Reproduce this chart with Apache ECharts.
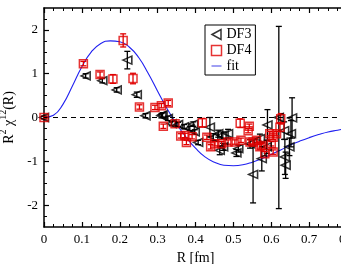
<!DOCTYPE html>
<html><head><meta charset="utf-8">
<script src="https://cdn.jsdelivr.net/npm/echarts@6/dist/echarts.min.js"></script>
<style>html,body{margin:0;padding:0;background:#fff}#c{width:341px;height:264px}</style>
</head><body><div id="c"></div>
<script>
// ---- data ----
const df3R = [0.0,0.11,0.154,0.192,0.22,0.245,0.268,0.31,0.313,0.327,0.337,0.354,0.37,0.385,0.394,0.398,0.407,0.438,0.447,0.46,0.464,0.469,0.473,0.486,0.508,0.513,0.544,0.552,0.57,0.575,0.588,0.59,0.62,0.634,0.636,0.638,0.648,0.652,0.655];
const df3V = [0.0,0.95,0.84,0.63,1.31,0.52,0.04,0.04,0.06,-0.02,-0.14,-0.16,-0.21,-0.25,-0.15,-0.33,-0.57,-0.22,-0.45,-0.37,-0.75,-0.41,-0.67,-0.37,-0.81,-0.71,-0.6,-1.3,-0.48,-0.94,-0.67,-0.17,0.0,-0.3,-0.9,-1.09,-0.67,-0.37,-0.01];
const df3E = [0.03,0.05,0.05,0.05,0.2,0.06,0.05,0.05,0.05,0.05,0.05,0.05,0.05,0.05,0.05,0.05,0.05,0.22,0.08,0.08,0.1,0.08,0.08,0.1,0.08,0.08,0.1,0.65,0.1,0.28,0.15,0.35,2.08,0.2,0.4,0.3,0.2,0.3,0.46];
const df4R = [0.0,0.104,0.148,0.182,0.209,0.235,0.252,0.293,0.31,0.328,0.315,0.346,0.361,0.372,0.376,0.391,0.418,0.43,0.44,0.451,0.469,0.486,0.504,0.518,0.52,0.539,0.542,0.544,0.552,0.561,0.57,0.574,0.583,0.596,0.6,0.605,0.605,0.614,0.623,0.625];
const df4V = [0.0,1.23,0.98,0.88,1.76,0.89,0.24,0.23,0.27,0.33,-0.2,-0.14,-0.42,-0.41,-0.57,-0.44,-0.12,-0.45,-0.67,-0.6,-0.6,-0.56,-0.56,-0.13,-0.52,-0.3,-0.2,-0.56,-0.56,-0.52,-0.67,-0.64,-0.83,-0.37,-0.6,-0.79,-0.45,-0.37,-0.22,-0.03];
const df4E = [0.03,0.05,0.06,0.1,0.15,0.12,0.05,0.05,0.05,0.06,0.05,0.05,0.05,0.05,0.05,0.05,0.1,0.05,0.05,0.05,0.05,0.05,0.05,0.1,0.05,0.05,0.05,0.05,0.05,0.05,0.05,0.05,0.05,0.05,0.05,0.05,0.05,0.05,0.1,0.12];
const fitR = [0,0.025,0.05,0.075,0.1,0.125,0.15,0.175,0.2,0.225,0.25,0.275,0.3,0.325,0.35,0.375,0.4,0.425,0.45,0.475,0.5,0.525,0.55,0.575,0.6,0.625,0.65,0.675,0.7,0.725,0.75,0.775,0.8];
const fitV = [0,0.05,0.3,0.72,1.16,1.5,1.69,1.75,1.73,1.61,1.37,1.01,0.6,0.2,-0.15,-0.45,-0.7,-0.9,-1.02,-1.09,-1.1,-1.08,-1.02,-0.94,-0.84,-0.74,-0.63,-0.54,-0.46,-0.39,-0.33,-0.29,-0.25];
const yMajorTicks = [-2,-1,0,1,2];
const yMinorTicks = [-2.25,-1.75,-1.5,-1.25,-0.75,-0.5,-0.25,0.25,0.5,0.75,1.25,1.5,1.75,2.25];
const xTickLabels = ['0','0.1','0.2','0.3','0.4','0.5','0.6','0.7','0.8'];

const FONT = '"Liberation Serif", "DejaVu Serif", serif';
const chart = echarts.init(document.getElementById('c'), null, {renderer:'canvas'});

function pts(r, v){ return r.map((x,i)=>[x, v[i]]); }
function errData(r, v, e){ return r.map((x,i)=>[x, v[i]-e[i], v[i]+e[i]]); }
function errSeries(r, v, e, color, z){
  return {
    type:'custom', silent:true, z:z, xAxisIndex:0, yAxisIndex:0,
    data: errData(r, v, e),
    renderItem: function(params, api){
      const x = api.value(0);
      const p1 = api.coord([x, api.value(1)]);
      const p2 = api.coord([x, api.value(2)]);
      const w = 3;
      const st = {stroke: color, lineWidth: 1.3};
      return {type:'group', children:[
        {type:'line', shape:{x1:p1[0], y1:p1[1], x2:p2[0], y2:p2[1]}, style:st},
        {type:'line', shape:{x1:p1[0]-w, y1:p1[1], x2:p1[0]+w, y2:p1[1]}, style:st},
        {type:'line', shape:{x1:p2[0]-w, y1:p2[1], x2:p2[0]+w, y2:p2[1]}, style:st}
      ]};
    }
  };
}

const axisLineStyle = {color:'#000', width:1.5};
const tri = 'path://M0,5 L9,0 L9,10 Z';
const lineIcon = 'path://M0,0 L0.01,0 M0,4.3 L10,4.3 L10,5.7 L0,5.7 Z M10,10 L9.99,10';

const option = {
  animation:false,
  backgroundColor:'#fff',
  grid:{left:44, top:8, width:303, height:219, outerBoundsMode:'none', containLabel:false},
  legend:{
    orient:'vertical', left:205, top:25,
    backgroundColor:'#fff', borderColor:'#000', borderWidth:1, borderRadius:0,
    padding:[2,4,2,4], itemGap:1, itemWidth:10, itemHeight:10,
    textStyle:{fontFamily:FONT, fontSize:14, color:'#000', padding:[0,0,0,0]},
    data:[
      {name:'DF3', icon:tri, itemStyle:{color:'none', borderColor:'#000', borderWidth:1.5}},
      {name:'DF4', icon:'rect', itemStyle:{color:'none', borderColor:'#e00000', borderWidth:1.5}},
      {name:'fit', icon:lineIcon, itemStyle:{color:'#8080f0', borderWidth:0}}
    ]
  },
  xAxis:[
    {type:'value', min:0, max:0.8, interval:0.1, position:'bottom',
     name:'R [fm]', nameLocation:'middle', nameGap:21,
     nameTextStyle:{fontFamily:FONT, fontSize:14, color:'#000'},
     axisLine:{show:true, onZero:false, lineStyle:axisLineStyle},
     axisTick:{show:true, inside:true, length:5, lineStyle:{color:'#000', width:1.2}},
     minorTick:{show:true, splitNumber:4, length:3, lineStyle:{color:'#000', width:1}},
     axisLabel:{fontFamily:FONT, fontSize:13, color:'#000', margin:6, showMaxLabel:true,
       formatter:function(v){ return xTickLabels[Math.round(v*10)]; }},
     splitLine:{show:false}},
    {type:'value', min:0, max:0.8, interval:0.1, position:'top',
     axisLine:{show:true, onZero:false, lineStyle:axisLineStyle},
     axisTick:{show:true, inside:true, length:5, lineStyle:{color:'#000', width:1.2}},
     minorTick:{show:true, splitNumber:4, length:3, lineStyle:{color:'#000', width:1}},
     axisLabel:{show:false}, splitLine:{show:false}}
  ],
  yAxis:[
    {type:'value', min:-2.5, max:2.5, position:'left',
     name:'{a|R}{s|2}{a| χ}{s|12}{a|(R)}', nameLocation:'middle', nameGap:25, nameRotate:90,
     nameTextStyle:{fontFamily:FONT, fontSize:14, color:'#000',
       rich:{a:{fontFamily:FONT, fontSize:14, color:'#000', lineHeight:18, verticalAlign:'bottom'},
             s:{fontFamily:FONT, fontSize:10, color:'#000', lineHeight:18, verticalAlign:'top'}}},
     axisLine:{show:true, onZero:false, lineStyle:axisLineStyle},
     axisTick:{show:true, inside:true, length:5, customValues:yMajorTicks, lineStyle:{color:'#000', width:1.2}},
     axisLabel:{fontFamily:FONT, fontSize:13, color:'#000', margin:6, customValues:yMajorTicks},
     splitLine:{show:false}},
    {type:'value', min:-2.5, max:2.5, position:'left',
     axisLine:{show:false},
     axisTick:{show:true, inside:true, length:3, customValues:yMinorTicks, lineStyle:{color:'#000', width:1}},
     axisLabel:{show:false}, splitLine:{show:false}}
  ],
  series:[
    {name:'fit', type:'line', smooth:true, showSymbol:false, symbol:'none', z:2,
     data: pts(fitR, fitV), lineStyle:{color:'#2020f0', width:1.1}, itemStyle:{color:'#2020f0'},
     markLine:{silent:true, symbol:'none', label:{show:false},
       lineStyle:{color:'#000', type:[5,4], width:1}, data:[{yAxis:0}]}},
    errSeries(df3R, df3V, df3E, '#000', 3),
    errSeries(df4R, df4V, df4E, '#e00000', 4),
    {name:'DF3', type:'scatter', z:5, symbol:'triangle', symbolSize:[8,9], symbolRotate:90,
     data: pts(df3R, df3V), itemStyle:{color:'none', borderColor:'#000', borderWidth:1.5}},
    {name:'DF4', type:'scatter', z:6, symbol:'rect', symbolSize:8,
     data: pts(df4R, df4V), itemStyle:{color:'none', borderColor:'#e00000', borderWidth:1.5}}
  ]
};
chart.setOption(option);
</script></body></html>
